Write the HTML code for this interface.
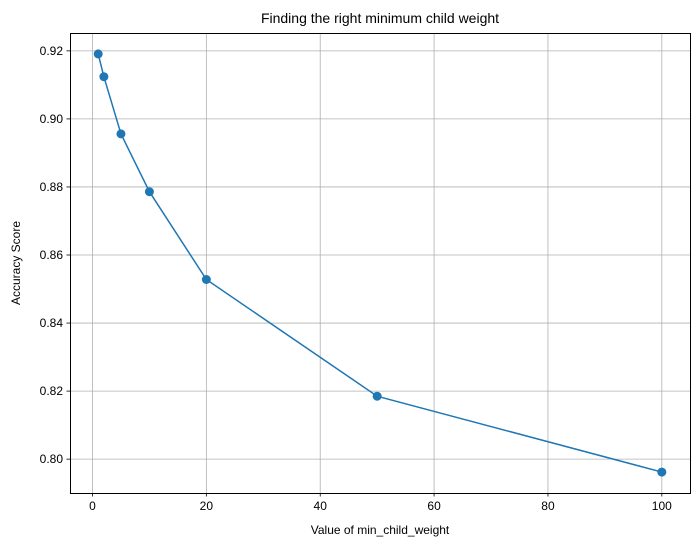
<!DOCTYPE html>
<html><head><meta charset="utf-8"><style>
body{margin:0;background:#fff;}
svg{display:block;font-family:"Liberation Sans","DejaVu Sans",sans-serif;}
</style></head><body>
<svg id="chart" width="700" height="547">
<rect width="700" height="547" fill="#fff"/>
<g id="grid"></g>
<g id="marks"></g>
<rect x="70.5" y="33.5" width="620" height="460" fill="none" stroke="#000" stroke-width="0.8" shape-rendering="crispEdges"/>
<g id="ticks"></g>
<text x="380" y="23" text-anchor="middle" font-size="14">Finding the right minimum child weight</text>
<text x="380" y="534" text-anchor="middle" font-size="12">Value of min_child_weight</text>
<text x="20" y="263" text-anchor="middle" font-size="12" transform="rotate(-90 20 263)">Accuracy Score</text>
</svg>
<script>
const xValues=[1,2,5,10,20,50,100];
const yValues=[0.9191,0.9124,0.8956,0.8786,0.8528,0.8185,0.7962];
const xTicks=[0,20,40,60,80,100];
const yTicks=[0.80,0.82,0.84,0.86,0.88,0.90,0.92];
const L=70,R=690,T=33,B=493;
const xmin=-3.95,xmax=104.95,ymin=0.79005,ymax=0.92525;
const sx=v=>L+(v-xmin)/(xmax-xmin)*(R-L);
const sy=v=>B-(v-ymin)/(ymax-ymin)*(B-T);
const NS="http://www.w3.org/2000/svg";
function mk(tag,attrs,parent){const e=document.createElementNS(NS,tag);for(const k in attrs)e.setAttribute(k,attrs[k]);parent.appendChild(e);return e;}
const grid=document.getElementById('grid'),ticks=document.getElementById('ticks'),marks=document.getElementById('marks');
xTicks.forEach(t=>{const x=sx(t);
 const g=mk('line',{x1:x,x2:x,y1:T,y2:B,stroke:'#b0b0b0','stroke-width':0.8},grid);
 
 
 const tk=mk('line',{x1:x,x2:x,y1:B,y2:B+3.5,stroke:'#000','stroke-width':0.8},ticks);
 
 
 const tx=mk('text',{x:x,y:B+17,'text-anchor':'middle','font-size':12},ticks);tx.textContent=t;
 
 
});
yTicks.forEach(t=>{const y=sy(t);
 const g=mk('line',{x1:L,x2:R,y1:y,y2:y,stroke:'#b0b0b0','stroke-width':0.8},grid);
 
 
 const tk=mk('line',{x1:L-3.5,x2:L,y1:y,y2:y,stroke:'#000','stroke-width':0.8},ticks);
 
 
 const tx=mk('text',{x:L-7,y:y+4,'text-anchor':'end','font-size':12},ticks);tx.textContent=t.toFixed(2);
 
 
});
const pts=xValues.map((v,i)=>sx(v)+','+sy(yValues[i])).join(' ');
const line=mk('polyline',{points:pts,fill:'none',stroke:'#1f77b4','stroke-width':1.5},marks);


xValues.forEach((v,i)=>{const c=mk('circle',{cx:sx(v),cy:sy(yValues[i]),r:4.5,fill:'#1f77b4'},marks);
 
 
});
</script>
</body></html>
